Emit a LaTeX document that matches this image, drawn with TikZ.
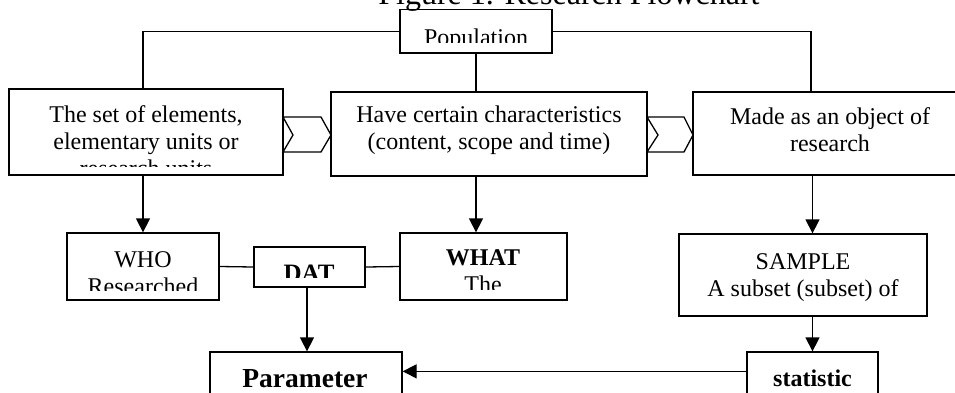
\documentclass[tikz,border=0pt]{standalone}
\usepackage{fontspec}
\setmainfont{Liberation Serif}
\usetikzlibrary{arrows.meta}
\tikzset{
  box/.style={draw, line width=1.3pt, rectangle, inner sep=0pt},
  txt/.style={anchor=base, inner sep=0pt, font=\fontsize{24}{28}\selectfont},
  btxt/.style={anchor=base, inner sep=0pt, font=\fontsize{24}{28}\selectfont\bfseries},
  link/.style={line width=1.3pt},
  arr/.style={line width=1.3pt, -{Triangle[length=14pt,width=14pt]}},
  chev/.style={draw, line width=1.3pt, line join=miter}
}
\begin{document}
\begin{tikzpicture}[x=1pt,y=-1pt]
\useasboundingbox (0,0) rectangle (955,392);
\clip (0,0) rectangle (955,392);

% title
\node[anchor=base, inner sep=0pt, font=\fontsize{32}{36}\selectfont] (title) at (569,4) {Figure 1. Research Flowchart};

% boxes
\node[box, minimum width=152pt, minimum height=43.5pt] (pop) at (476,31.25) {};
\node[box, minimum width=274pt, minimum height=86pt] (lbox) at (146,132) {};
\node[box, minimum width=316pt, minimum height=84pt] (mbox) at (489,134) {};
\node[box, minimum width=274pt, minimum height=83pt] (rbox) at (830,133.5) {};
\node[box, minimum width=152pt, minimum height=67pt] (who) at (143,266.5) {};
\node[box, minimum width=111pt, minimum height=40pt] (dat) at (309.5,267) {};
\node[box, minimum width=167pt, minimum height=67pt] (what) at (483.5,266.5) {};
\node[box, minimum width=248pt, minimum height=82pt] (sample) at (803,275) {};
\node[box, minimum width=131pt, minimum height=60pt] (stat) at (812.5,382) {};
\node[box, minimum width=192pt, minimum height=60pt] (par) at (306,382) {};

% texts
\begin{scope}
  \clip (401,10) rectangle (551,42.5);
  \node[txt] (poptext) at (476,45) {Population};
\end{scope}
\begin{scope}
  \clip (10,90) rectangle (282,166);
  \node[txt] (l1) at (146,122.7) {The set of elements,};
  \node[txt] (l2) at (146,149.5) {elementary units or};
  \node[txt] (l3) at (146,176.3) {research units};
\end{scope}
\node[txt] (m1) at (489,122.7) {Have certain characteristics};
\node[txt] (m2) at (489,149.5) {(content, scope and time)};
\node[txt] (r1) at (830,124) {Made as an object of};
\node[txt] (r2) at (830,151) {research};
\begin{scope}
  \clip (68,234) rectangle (218,290);
  \node[txt] (who1) at (143,267) {WHO};
  \node[txt] (who2) at (143,294) {Researched};
\end{scope}
\begin{scope}
  \clip (255,248) rectangle (364,277);
  \node[btxt, font=\fontsize{25}{29}\selectfont\bfseries] (dattext) at (309,281.5) {DAT};
\end{scope}
\begin{scope}
  \clip (401,234) rectangle (566,289);
  \node[btxt] (what1) at (483,265.7) {WHAT};
  \node[txt] (what2) at (483,292.7) {The};
\end{scope}
\node[txt] (s1) at (803,269) {SAMPLE};
\node[txt] (s2) at (803,296) {A subset (subset) of};
\node[btxt, font=\fontsize{27.5}{32}\selectfont\bfseries] (partext) at (305,387) {Parameter};
\node[btxt] (stattext) at (812.5,386) {statistic};

% chevrons
\draw[chev] (283,117) -- (321,117) -- (331,135) -- (321,152) -- (283,152) -- (293,135) -- cycle;
\draw[chev] (647,117) -- (684,117) -- (693,135) -- (684,152) -- (647,152) -- (658,135) -- cycle;

% connectors
\draw[link] (pop.west) -| ([xshift=-3pt]lbox.north);
\draw[link] (pop.east) -| ([xshift=-19pt]rbox.north);
\draw[link] (pop.south) -- (pop.south |- mbox.north);
\draw[arr] (lbox.south -| who.north) -- (who.north);
\draw[arr] (mbox.south -| pop.south) -- (what.north -| pop.south);
\draw[arr] (rbox.south -| stat.north) -- (sample.north -| stat.north);
\draw[arr] (sample.south -| stat.north) -- (stat.north);
\draw[link] (who.east) -- (dat.west);
\draw[link] (dat.east) -- (what.west);
\draw[arr] ([xshift=-2.5pt]dat.south) -- ([xshift=-2.5pt]dat.south |- par.north);
\draw[arr] ([yshift=-20pt]stat.north west) -- ([yshift=-20pt]par.north east);
\end{tikzpicture}
\end{document}
